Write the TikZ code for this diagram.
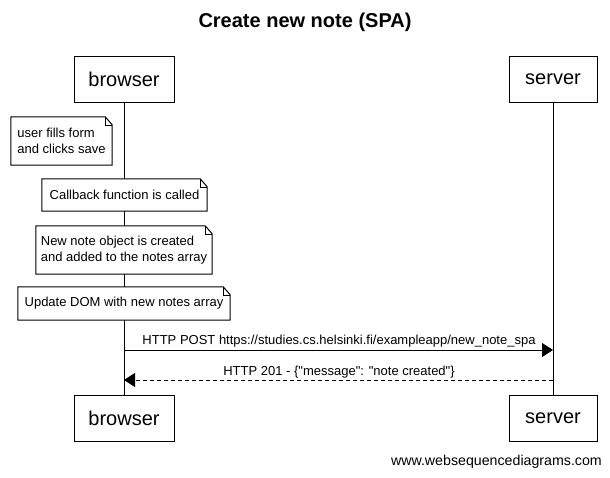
\documentclass[tikz,border=0pt]{standalone}
\usepackage{fontspec}
\setmainfont{Liberation Sans}[Ligatures=TeXOff]
\usetikzlibrary{arrows.meta}
\tikzset{
  actor/.style={draw, line width=1pt, fill=white, minimum width=100pt, minimum height=46pt, inner sep=0pt, font=\fontsize{20}{22}\selectfont},
  notebox/.style={fill=white, inner sep=0pt, align=left, font=\fontsize{13}{16.5}\selectfont},
  lifeline/.style={line width=1pt},
  msg/.style={line width=1pt, -{Triangle[length=11pt,width=14pt]}},
  reply/.style={msg, dash pattern=on 4pt off 3pt},
  msglabel/.style={font=\fontsize{13}{15}\selectfont, inner sep=0pt},
}
\newcommand{\foldnote}[1]{%
  \draw[line width=1pt] (#1.north west) -- ([xshift=-7pt]#1.north east) -- ([yshift=-8pt]#1.north east) -- (#1.south east) -- (#1.south west) -- cycle;
  \draw[line width=0.6pt] ([xshift=-7pt]#1.north east) -- ([xshift=-7pt,yshift=-8pt]#1.north east) -- ([yshift=-8pt]#1.north east);
}
\begin{document}
\begin{tikzpicture}[x=1pt,y=-1pt]
\useasboundingbox (0,0) rectangle (610,477);
\fill[white] (0,0) rectangle (610,477);

\node[font=\bfseries\fontsize{20}{24}\selectfont] (title) at (305,22) {Create new note (SPA)};

\node[actor] (bTop) at (124,79) {browser};
\node[actor, minimum width=88pt] (sTop) at (553,79) {server};
\node[actor] (bBot) at (124,418.5) {browser};
\node[actor, minimum width=88pt] (sBot) at (553,418.5) {server};

\draw[lifeline] (bTop.south) -- (bBot.north);
\draw[lifeline] (sTop.south) -- (sBot.north);

\node[notebox, minimum width=101pt, minimum height=48pt] (n1) at (61.5,141) {user fills form\\and clicks save};
\foldnote{n1}
\node[notebox, minimum width=165pt, minimum height=32pt] (n2) at (124.5,195) {Callback function is called};
\foldnote{n2}
\node[notebox, minimum width=176pt, minimum height=48pt] (n3) at (124,250) {New note object is created\\and added to the notes array};
\foldnote{n3}
\node[notebox, minimum width=212pt, minimum height=33pt] (n4) at (124,303.5) {Update DOM with new notes array};
\foldnote{n4}

\coordinate (bPost) at (bTop.south |- 0,350);
\coordinate (sPost) at (sTop.south |- 0,350);
\coordinate (bResp) at (bTop.south |- 0,380);
\coordinate (sResp) at (sTop.south |- 0,380);

\draw[msg] (bPost) -- (sPost);
\node[msglabel] (postlbl) at (339,341) {HTTP POST https://studies.cs.helsinki.fi/exampleapp/new\_note\_spa};
\draw[reply] (sResp) -- (bResp);
\node[msglabel] (resplbl) at (339,372) {HTTP 201 - \{"message": "note created"\}};

\node[anchor=east, font=\fontsize{14.2}{16}\selectfont, inner sep=0pt] (footer) at (602,462) {www.websequencediagrams.com};
\end{tikzpicture}
\end{document}
